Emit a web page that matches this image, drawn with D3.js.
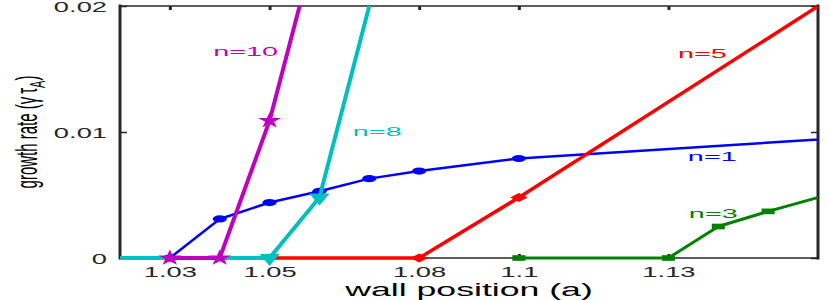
<!DOCTYPE html>
<html>
<head>
<meta charset="utf-8">
<script src="https://cdn.jsdelivr.net/npm/d3@7"></script>
<style>
  body { margin: 0; background: #fff; }
  text { font-family: "Liberation Sans", Arial, sans-serif; }
</style>
</head>
<body>
<div id="chart"></div>
<script>
// wall position (a) and growth rate (gamma tau_A), one pair of arrays per mode
var wallN1 = [1.03, 1.04, 1.05, 1.06, 1.07, 1.08, 1.1, 1.2];
var rateN1 = [0, 0.0031, 0.0044, 0.0053, 0.0063, 0.0069, 0.0079, 0.0104];
var wallN3 = [1.1, 1.13, 1.14, 1.15, 1.17];
var rateN3 = [0, 0, 0.0025, 0.0037, 0.0059];
var wallN5 = [1.05, 1.08, 1.1, 1.2];
var rateN5 = [0, 0, 0.0048, 0.0301];
var wallN8 = [1.01, 1.05, 1.06, 1.08];
var rateN8 = [0, 0, 0.0048, 0.0352];
var wallN10 = [1.03, 1.04, 1.05, 1.06];
var rateN10 = [0, 0, 0.0109, 0.026];

var xTicks = [1.03, 1.05, 1.08, 1.1, 1.13];
var yTicks = [0, 0.01, 0.02];

var W = 830, H = 300;
var axisColor = '#262626';
var font = '"Liberation Sans", Arial, sans-serif';

var x = d3.scaleLinear().domain([1.02, 1.16]).range([120, 818]);
var y = d3.scaleLinear().domain([0, 0.02]).range([258, 6]);

// drawing order follows the original plot: n=1 underneath, n=10 on top
var series = [
  { name: 'n=1',  wall: wallN1,  rate: rateN1,  color: '#0000ff', width: 2.5, marker: 'circle',   label: [1.1339, 0.0077] },
  { name: 'n=3',  wall: wallN3,  rate: rateN3,  color: '#008000', width: 3,   marker: 'square',   label: [1.1341, 0.00317] },
  { name: 'n=5',  wall: wallN5,  rate: rateN5,  color: '#ff0000', width: 3.5, marker: 'diamond',  label: [1.1319, 0.01587] },
  { name: 'n=8',  wall: wallN8,  rate: rateN8,  color: '#00bfbf', width: 4,   marker: 'triangle', label: [1.0667, 0.00968] },
  { name: 'n=10', wall: wallN10, rate: rateN10, color: '#bf00bf', width: 4,   marker: 'star',     label: [1.0387, 0.01603] }
];

var markers = {
  circle:   { path: d3.symbol(d3.symbolCircle, 40)(),     tf: 'scale(2,1)' },
  square:   { path: d3.symbol(d3.symbolSquare, 32)(),     tf: 'scale(2.3,1)' },
  diamond:  { path: d3.symbol(d3.symbolSquare, 42)(),     tf: 'scale(1.9,1) rotate(45)' },
  triangle: { path: d3.symbol(d3.symbolTriangle, 85)(),   tf: 'scale(1.45,1) rotate(180)' },
  star:     { path: d3.symbol(d3.symbolStar, 80)(),       tf: 'scale(1.45,1)' }
};

var svg = d3.select('#chart')
  .append('svg')
    .attr('width', W)
    .attr('height', H)
    .style('background', '#fff');

svg.append('defs')
  .append('clipPath')
    .attr('id', 'plotclip')
  .append('rect')
    .attr('x', x(1.02))
    .attr('y', y(0.02))
    .attr('width', x(1.16) - x(1.02))
    .attr('height', 290 - y(0.02));

// axes (inward ticks on all four sides, like a boxed axes)
var gx = svg.append('g')
  .attr('transform', 'translate(0,' + y(0) + ')')
  .style('color', axisColor)
  .call(d3.axisBottom(x).tickValues(xTicks).tickSize(-4).tickFormat(function (d) { return d; }))
  .attr('font-size', 14)
  .attr('font-family', font);
gx.select('.domain').remove();
gx.selectAll('line').attr('stroke-width', 3);
gx.selectAll('text')
  .attr('y', 0)
  .attr('dy', null)
  .attr('transform', 'translate(0,18.5) scale(1.95,1)');

var gy = svg.append('g')
  .attr('transform', 'translate(' + x(1.02) + ',0)')
  .style('color', axisColor)
  .call(d3.axisLeft(y).tickValues(yTicks).tickSize(-7).tickFormat(function (d) { return d; }))
  .attr('font-size', 14)
  .attr('font-family', font);
gy.select('.domain').remove();
gy.selectAll('line').attr('stroke-width', 1.5);
gy.selectAll('text')
  .attr('x', 0)
  .attr('dy', null)
  .attr('transform', 'translate(-13,5.5) scale(1.95,1)');

var gt = svg.append('g')
  .attr('transform', 'translate(0,' + y(0.02) + ')')
  .style('color', axisColor)
  .call(d3.axisTop(x).tickValues(xTicks).tickSize(-4).tickFormat(''));
gt.select('.domain').remove();
gt.selectAll('line').attr('stroke-width', 3);

var gr = svg.append('g')
  .attr('transform', 'translate(' + x(1.16) + ',0)')
  .style('color', axisColor)
  .call(d3.axisRight(y).tickValues(yTicks).tickSize(-7).tickFormat(''));
gr.select('.domain').remove();
gr.selectAll('line').attr('stroke-width', 1.5);

// box
var box = svg.append('g').attr('stroke', axisColor).attr('stroke-linecap', 'square');
box.append('line').attr('x1', x(1.02)).attr('x2', x(1.02)).attr('y1', y(0)).attr('y2', y(0.02)).attr('stroke-width', 3);
box.append('line').attr('x1', x(1.16)).attr('x2', x(1.16)).attr('y1', y(0)).attr('y2', y(0.02)).attr('stroke-width', 3);
box.append('line').attr('x1', x(1.02)).attr('x2', x(1.16)).attr('y1', y(0.02)).attr('y2', y(0.02)).attr('stroke-width', 1.5);
box.append('line').attr('x1', x(1.02)).attr('x2', x(1.16)).attr('y1', y(0)).attr('y2', y(0)).attr('stroke-width', 1.5);

// data
var line = d3.line()
  .x(function (p) { return x(p[0]); })
  .y(function (p) { return y(p[1]); });

var plot = svg.append('g').attr('clip-path', 'url(#plotclip)');

series.forEach(function (s) {
  var pts = d3.zip(s.wall, s.rate);
  var g = plot.append('g');
  g.append('path')
    .attr('d', line(pts))
    .attr('fill', 'none')
    .attr('stroke', s.color)
    .attr('stroke-width', s.width)
    .attr('stroke-linejoin', 'round');
  g.selectAll('path.mk')
    .data(pts)
    .enter().append('path')
      .classed('mk', true)
      .attr('d', markers[s.marker].path)
      .attr('transform', function (p) {
        return 'translate(' + x(p[0]) + ',' + y(p[1]) + ') ' + markers[s.marker].tf;
      })
      .attr('fill', s.color);
});

// curve labels
svg.selectAll('text.curve')
  .data(series)
  .enter().append('text')
    .classed('curve', true)
    .attr('transform', function (s) {
      return 'translate(' + x(s.label[0]) + ',' + y(s.label[1]) + ') scale(2.4,1)';
    })
    .attr('font-size', 12)
    .attr('fill', function (s) { return s.color; })
    .text(function (s) { return s.name; });

// axis titles
svg.append('text')
  .attr('transform', 'translate(' + (x(1.02) + x(1.16)) / 2 + ',296) scale(1.98,1)')
  .attr('text-anchor', 'middle')
  .attr('font-size', 18)
  .attr('fill', '#000')
  .text('wall position (a)');

var yl = svg.append('text')
  .attr('transform', 'translate(37,' + (y(0) + y(0.02)) / 2 + ') scale(2,1) rotate(-90)')
  .attr('text-anchor', 'middle')
  .attr('font-size', 15)
  .attr('fill', '#000');
yl.append('tspan').text('growth rate (\u03b3\u2009\u03c4');
yl.append('tspan').attr('font-size', 11).attr('dy', 4).text('A');
yl.append('tspan').attr('dy', -4).text(')');
</script>
</body>
</html>
